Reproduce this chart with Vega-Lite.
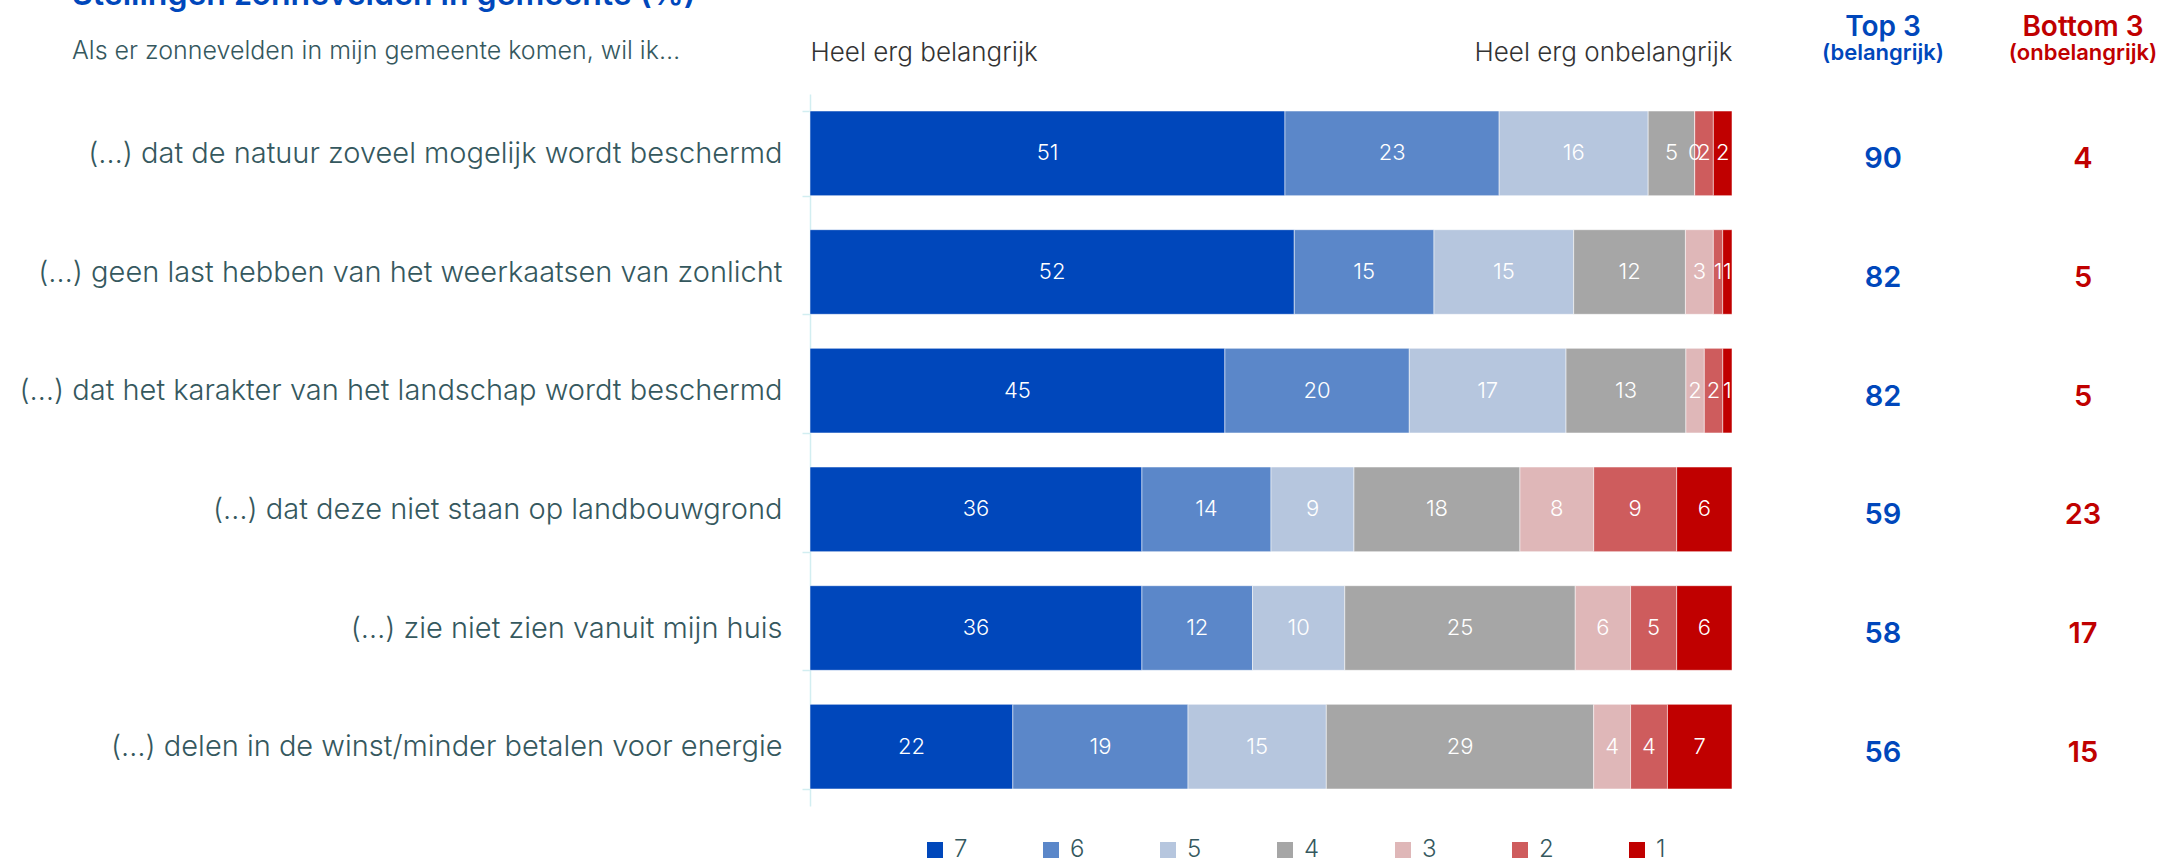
{
  "$schema": "https://vega.github.io/schema/vega-lite/v6.json",
  "background": "white",
  "padding": {"left": 18, "top": -21, "right": 0, "bottom": 0},
  "config": {"view": {"stroke": null}, "font": "Inter"},
  "datasets": {
    "resp": [
      {"item": "(…) dat de natuur zoveel mogelijk wordt beschermd", "score": "7", "pct": 51},
      {"item": "(…) dat de natuur zoveel mogelijk wordt beschermd", "score": "6", "pct": 23},
      {"item": "(…) dat de natuur zoveel mogelijk wordt beschermd", "score": "5", "pct": 16},
      {"item": "(…) dat de natuur zoveel mogelijk wordt beschermd", "score": "4", "pct": 5},
      {"item": "(…) dat de natuur zoveel mogelijk wordt beschermd", "score": "3", "pct": 0},
      {"item": "(…) dat de natuur zoveel mogelijk wordt beschermd", "score": "2", "pct": 2},
      {"item": "(…) dat de natuur zoveel mogelijk wordt beschermd", "score": "1", "pct": 2},
      {"item": "(…) geen last hebben van het weerkaatsen van zonlicht", "score": "7", "pct": 52},
      {"item": "(…) geen last hebben van het weerkaatsen van zonlicht", "score": "6", "pct": 15},
      {"item": "(…) geen last hebben van het weerkaatsen van zonlicht", "score": "5", "pct": 15},
      {"item": "(…) geen last hebben van het weerkaatsen van zonlicht", "score": "4", "pct": 12},
      {"item": "(…) geen last hebben van het weerkaatsen van zonlicht", "score": "3", "pct": 3},
      {"item": "(…) geen last hebben van het weerkaatsen van zonlicht", "score": "2", "pct": 1},
      {"item": "(…) geen last hebben van het weerkaatsen van zonlicht", "score": "1", "pct": 1},
      {"item": "(…) dat het karakter van het landschap wordt beschermd", "score": "7", "pct": 45},
      {"item": "(…) dat het karakter van het landschap wordt beschermd", "score": "6", "pct": 20},
      {"item": "(…) dat het karakter van het landschap wordt beschermd", "score": "5", "pct": 17},
      {"item": "(…) dat het karakter van het landschap wordt beschermd", "score": "4", "pct": 13},
      {"item": "(…) dat het karakter van het landschap wordt beschermd", "score": "3", "pct": 2},
      {"item": "(…) dat het karakter van het landschap wordt beschermd", "score": "2", "pct": 2},
      {"item": "(…) dat het karakter van het landschap wordt beschermd", "score": "1", "pct": 1},
      {"item": "(…) dat deze niet staan op landbouwgrond", "score": "7", "pct": 36},
      {"item": "(…) dat deze niet staan op landbouwgrond", "score": "6", "pct": 14},
      {"item": "(…) dat deze niet staan op landbouwgrond", "score": "5", "pct": 9},
      {"item": "(…) dat deze niet staan op landbouwgrond", "score": "4", "pct": 18},
      {"item": "(…) dat deze niet staan op landbouwgrond", "score": "3", "pct": 8},
      {"item": "(…) dat deze niet staan op landbouwgrond", "score": "2", "pct": 9},
      {"item": "(…) dat deze niet staan op landbouwgrond", "score": "1", "pct": 6},
      {"item": "(…) zie niet zien vanuit mijn huis", "score": "7", "pct": 36},
      {"item": "(…) zie niet zien vanuit mijn huis", "score": "6", "pct": 12},
      {"item": "(…) zie niet zien vanuit mijn huis", "score": "5", "pct": 10},
      {"item": "(…) zie niet zien vanuit mijn huis", "score": "4", "pct": 25},
      {"item": "(…) zie niet zien vanuit mijn huis", "score": "3", "pct": 6},
      {"item": "(…) zie niet zien vanuit mijn huis", "score": "2", "pct": 5},
      {"item": "(…) zie niet zien vanuit mijn huis", "score": "1", "pct": 6},
      {"item": "(…) delen in de winst/minder betalen voor energie", "score": "7", "pct": 22},
      {"item": "(…) delen in de winst/minder betalen voor energie", "score": "6", "pct": 19},
      {"item": "(…) delen in de winst/minder betalen voor energie", "score": "5", "pct": 15},
      {"item": "(…) delen in de winst/minder betalen voor energie", "score": "4", "pct": 29},
      {"item": "(…) delen in de winst/minder betalen voor energie", "score": "3", "pct": 4},
      {"item": "(…) delen in de winst/minder betalen voor energie", "score": "2", "pct": 4},
      {"item": "(…) delen in de winst/minder betalen voor energie", "score": "1", "pct": 7}
    ],
    "summary": [
      {"item": "(…) dat de natuur zoveel mogelijk wordt beschermd", "top3": 90, "bottom3": 4},
      {"item": "(…) geen last hebben van het weerkaatsen van zonlicht", "top3": 82, "bottom3": 5},
      {"item": "(…) dat het karakter van het landschap wordt beschermd", "top3": 82, "bottom3": 5},
      {"item": "(…) dat deze niet staan op landbouwgrond", "top3": 59, "bottom3": 23},
      {"item": "(…) zie niet zien vanuit mijn huis", "top3": 58, "bottom3": 17},
      {"item": "(…) delen in de winst/minder betalen voor energie", "top3": 56, "bottom3": 15}
    ]
  },
  "spacing": 50,
  "hconcat": [
    {
      "width": 922,
      "height": 712,
      "data": {"name": "resp"},
      "title": {
        "text": "Stellingen zonnevelden in gemeente (%)",
        "subtitle": "Als er zonnevelden in mijn gemeente komen, wil ik…",
        "anchor": "start",
        "frame": "group",
        "dx": -738,
        "offset": -26,
        "fontSize": 32,
        "fontWeight": 600,
        "font": "Inter",
        "color": "#0047BB",
        "subtitleFont": "Inter",
        "subtitleFontSize": 25,
        "subtitleFontWeight": 300,
        "subtitleColor": "#35585e",
        "subtitlePadding": 27
      },
      "encoding": {
        "y": {
          "field": "item",
          "type": "nominal",
          "sort": [
            "(…) dat de natuur zoveel mogelijk wordt beschermd",
            "(…) geen last hebben van het weerkaatsen van zonlicht",
            "(…) dat het karakter van het landschap wordt beschermd",
            "(…) dat deze niet staan op landbouwgrond",
            "(…) zie niet zien vanuit mijn huis",
            "(…) delen in de winst/minder betalen voor energie"
          ],
          "scale": {"paddingInner": 0.287, "paddingOuter": 0.1435},
          "axis": {
            "title": null,
            "labelFont": "Inter",
            "labelFontSize": 29,
            "labelFontWeight": 300,
            "labelColor": "#35585e",
            "labelLimit": 0,
            "labelPadding": 20,
            "tickSize": 8,
            "tickBand": "extent",
            "tickColor": "#d2eef1",
            "tickWidth": 1.5,
            "domainColor": "#d2eef1",
            "domainWidth": 1.5
          }
        }
      },
      "layer": [
        {
          "mark": {"type": "bar", "stroke": "white", "strokeWidth": 1, "strokeOpacity": 0.5},
          "encoding": {
            "x": {
              "field": "pct",
              "type": "quantitative",
              "stack": "normalize",
              "axis": {
                "orient": "top",
                "values": [0, 1],
                "labelExpr": "datum.value == 0 ? 'Heel erg belangrijk' : 'Heel erg onbelangrijk'",
                "labelFlush": true,
                "labelLimit": 0,
                "domain": false,
                "ticks": false,
                "grid": false,
                "title": null,
                "labelFont": "Inter",
                "labelFontSize": 26,
                "labelFontWeight": 300,
                "labelColor": "#333333",
                "labelPadding": 29
              }
            },
            "color": {
              "field": "score",
              "type": "nominal",
              "scale": {
                "domain": ["7", "6", "5", "4", "3", "2", "1"],
                "range": ["#0047BB", "#5B87C9", "#B6C6DE", "#A6A6A6", "#DFB7B8", "#CE5C5D", "#C00000"]
              },
              "legend": {
                "orient": "none",
                "legendX": 113,
                "legendY": 744,
                "direction": "horizontal",
                "title": null,
                "symbolType": "square",
                "symbolSize": 256,
                "symbolStrokeWidth": 0,
                "labelFont": "Inter",
                "labelFontSize": 24,
                "labelFontWeight": 300,
                "labelColor": "#35585e",
                "labelOffset": 7,
                "columnPadding": 71
              }
            },
            "order": {"field": "score", "sort": "descending"}
          }
        },
        {
          "mark": {"type": "text", "color": "white", "fontSize": 22, "fontWeight": 300, "font": "Inter"},
          "encoding": {
            "x": {
              "field": "pct",
              "type": "quantitative",
              "stack": "normalize",
              "bandPosition": 0.5,
              "axis": {
                "orient": "top",
                "values": [0, 1],
                "labelExpr": "datum.value == 0 ? 'Heel erg belangrijk' : 'Heel erg onbelangrijk'",
                "labelFlush": true,
                "labelLimit": 0,
                "domain": false,
                "ticks": false,
                "grid": false,
                "title": null,
                "labelFont": "Inter",
                "labelFontSize": 26,
                "labelFontWeight": 300,
                "labelColor": "#333333",
                "labelPadding": 29
              }
            },
            "detail": {"field": "score", "type": "nominal"},
            "order": {"field": "score", "sort": "descending"},
            "text": {"field": "pct", "type": "quantitative"}
          }
        }
      ]
    },
    {
      "spacing": 0,
      "hconcat": [
        {
          "width": 200,
          "height": 712,
          "data": {"name": "summary"},
          "title": {
            "text": "Top 3",
            "subtitle": "(belangrijk)",
            "anchor": "middle",
            "offset": 30,
            "font": "Inter",
            "fontSize": 28,
            "fontWeight": 600,
            "color": "#0047BB",
            "subtitleFont": "Inter",
            "subtitleFontSize": 22,
            "subtitleFontWeight": 600,
            "subtitleColor": "#0047BB",
            "subtitlePadding": 1
          },
          "mark": {"type": "text", "font": "Inter", "fontSize": 29, "fontWeight": 600, "color": "#0047BB", "dy": 6},
          "encoding": {
            "y": {
              "field": "item",
              "type": "nominal",
              "sort": [
                "(…) dat de natuur zoveel mogelijk wordt beschermd",
                "(…) geen last hebben van het weerkaatsen van zonlicht",
                "(…) dat het karakter van het landschap wordt beschermd",
                "(…) dat deze niet staan op landbouwgrond",
                "(…) zie niet zien vanuit mijn huis",
                "(…) delen in de winst/minder betalen voor energie"
              ],
              "scale": {"paddingInner": 0.287, "paddingOuter": 0.1435},
              "axis": null
            },
            "text": {"field": "top3", "type": "quantitative"}
          }
        },
        {
          "width": 200,
          "height": 712,
          "data": {"name": "summary"},
          "title": {
            "text": "Bottom 3",
            "subtitle": "(onbelangrijk)",
            "anchor": "middle",
            "offset": 30,
            "font": "Inter",
            "fontSize": 28,
            "fontWeight": 600,
            "color": "#C00000",
            "subtitleFont": "Inter",
            "subtitleFontSize": 22,
            "subtitleFontWeight": 600,
            "subtitleColor": "#C00000",
            "subtitlePadding": 1
          },
          "mark": {"type": "text", "font": "Inter", "fontSize": 29, "fontWeight": 600, "color": "#C00000", "dy": 6},
          "encoding": {
            "y": {
              "field": "item",
              "type": "nominal",
              "sort": [
                "(…) dat de natuur zoveel mogelijk wordt beschermd",
                "(…) geen last hebben van het weerkaatsen van zonlicht",
                "(…) dat het karakter van het landschap wordt beschermd",
                "(…) dat deze niet staan op landbouwgrond",
                "(…) zie niet zien vanuit mijn huis",
                "(…) delen in de winst/minder betalen voor energie"
              ],
              "scale": {"paddingInner": 0.287, "paddingOuter": 0.1435},
              "axis": null
            },
            "text": {"field": "bottom3", "type": "quantitative"}
          }
        }
      ]
    }
  ]
}
